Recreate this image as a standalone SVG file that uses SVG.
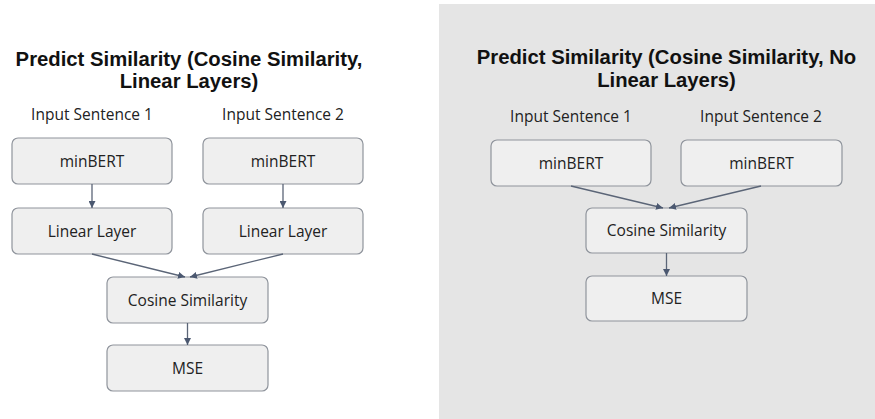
<svg xmlns="http://www.w3.org/2000/svg" width="875" height="419" viewBox="0 0 875 419">
<style>
.title{font-family:"Liberation Sans",Arial,sans-serif;font-weight:bold;font-size:20.3px;fill:#111;text-anchor:middle}
.lbl{font-family:"Open Sans","Noto Sans",sans-serif;font-size:15.5px;fill:#222;text-anchor:middle}
.box{fill:#efefef;stroke:#8f949c;stroke-width:1.2}
.conn{stroke:#5b6577;stroke-width:1.3;fill:none}
</style>
<defs>
<marker id="ah" viewBox="0 0 8 8" refX="8" refY="4" markerWidth="7" markerHeight="7" orient="auto" markerUnits="userSpaceOnUse">
<path d="M0,0 L8,4 L0,8 z" fill="#4b5870"/>
</marker>
</defs>
<rect width="875" height="419" fill="#ffffff"/>
<rect id="panel-right" x="439" y="4" width="436" height="415" fill="#e5e5e5"/>

<g id="left-title">
<text class="title" x="189" y="66">Predict Similarity (Cosine Similarity,</text>
<text class="title" x="189" y="88">Linear Layers)</text>
</g>
<g id="left-input1"><text class="lbl" x="92" y="120">Input Sentence 1</text></g>
<g id="left-input2"><text class="lbl" x="283" y="120">Input Sentence 2</text></g>
<g id="left-minbert1"><rect class="box" x="12" y="138" width="160" height="46" rx="6"/><text class="lbl" x="92" y="167">minBERT</text></g>
<g id="left-minbert2"><rect class="box" x="203" y="138" width="160" height="46" rx="6"/><text class="lbl" x="283" y="167">minBERT</text></g>
<g id="left-linear1"><rect class="box" x="12" y="208" width="160" height="46" rx="6"/><text class="lbl" x="92" y="237">Linear Layer</text></g>
<g id="left-linear2"><rect class="box" x="203" y="208" width="160" height="46" rx="6"/><text class="lbl" x="283" y="237">Linear Layer</text></g>
<g id="left-cosine"><rect class="box" x="107" y="277" width="161" height="46" rx="6"/><text class="lbl" x="187.5" y="306">Cosine Similarity</text></g>
<g id="left-mse"><rect class="box" x="107" y="345" width="161" height="46" rx="6"/><text class="lbl" x="187.5" y="374">MSE</text></g>

<g id="right-title">
<text class="title" x="666.5" y="64">Predict Similarity (Cosine Similarity, No</text>
<text class="title" x="666.5" y="87">Linear Layers)</text>
</g>
<g id="right-input1"><text class="lbl" x="571" y="122">Input Sentence 1</text></g>
<g id="right-input2"><text class="lbl" x="761" y="122">Input Sentence 2</text></g>
<g id="right-minbert1"><rect class="box" x="491" y="140" width="160" height="46" rx="6"/><text class="lbl" x="571" y="169">minBERT</text></g>
<g id="right-minbert2"><rect class="box" x="681" y="140" width="161" height="46" rx="6"/><text class="lbl" x="761.5" y="169">minBERT</text></g>
<g id="right-cosine"><rect class="box" x="586" y="208" width="161" height="45" rx="6"/><text class="lbl" x="666.5" y="236">Cosine Similarity</text></g>
<g id="right-mse"><rect class="box" x="586" y="276" width="161" height="45" rx="6"/><text class="lbl" x="666.5" y="304">MSE</text></g>

<g id="connectors">
<line class="conn" x1="92" y1="184" x2="92" y2="208" marker-end="url(#ah)"/>
<line class="conn" x1="283" y1="184" x2="283" y2="208" marker-end="url(#ah)"/>
<line class="conn" x1="92" y1="254" x2="185" y2="277" marker-end="url(#ah)"/>
<line class="conn" x1="283" y1="254" x2="190" y2="277" marker-end="url(#ah)"/>
<line class="conn" x1="187.5" y1="323" x2="187.5" y2="345" marker-end="url(#ah)"/>
<line class="conn" x1="571" y1="186" x2="663" y2="208" marker-end="url(#ah)"/>
<line class="conn" x1="761" y1="186" x2="669" y2="208" marker-end="url(#ah)"/>
<line class="conn" x1="666.5" y1="253" x2="666.5" y2="276" marker-end="url(#ah)"/>
</g>
</svg>
